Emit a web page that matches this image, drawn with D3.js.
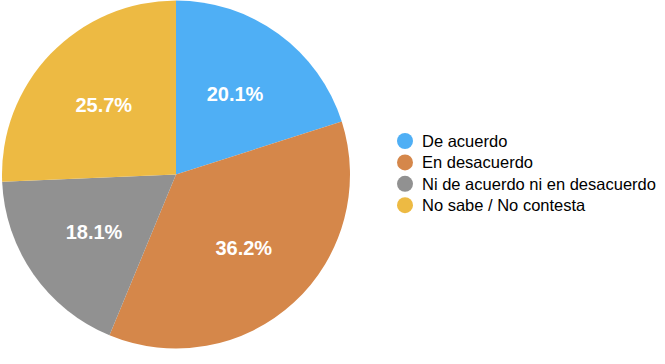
<!DOCTYPE html>
<meta charset="utf-8">
<style>
  body { margin: 0; background: #fff; }
  svg { font-family: "Liberation Sans", Arial, sans-serif; }
  .slice-label { fill: #fff; font-weight: bold; font-size: 20px; }
  .legend text { fill: #000; font-size: 16.5px; }
</style>
<body>
<div id="graph-container"></div>
<script src="https://d3js.org/d3.v7.min.js"></script>
<script>
  // data
  var categories = ["De acuerdo", "En desacuerdo", "Ni de acuerdo ni en desacuerdo", "No sabe / No contesta"];
  var values = [20.1, 36.2, 18.1, 25.7];
  var colors = ["#4faff5", "#d5874a", "#919191", "#edba43"];

  var w = 665, h = 364,
      cx = 176, cy = 174.5, r = 174;

  var svg = d3.select("#graph-container").append("svg")
      .attr("width", w)
      .attr("height", h);

  var color = d3.scaleOrdinal().domain(categories).range(colors);

  var pie = d3.pie().sort(null).value(function(d) { return d.value; });
  var rows = categories.map(function(c, i) { return { name: c, value: values[i] }; });
  var arcs = pie(rows);

  var arc = d3.arc().innerRadius(0).outerRadius(r);
  // label sits roughly 100px out from the centre
  var labelArc = d3.arc().innerRadius(0).outerRadius(r * 1.15);

  var g = svg.append("g").attr("transform", "translate(" + cx + "," + cy + ")");

  g.selectAll("path")
      .data(arcs)
      .enter().append("path")
      .attr("d", arc)
      .attr("fill", function(d) { return color(d.data.name); });

  g.selectAll(".slice-label")
      .data(arcs)
      .enter().append("text")
      .attr("class", "slice-label")
      .attr("text-anchor", "middle")
      .attr("dy", "0.36em")
      .attr("transform", function(d) { return "translate(" + labelArc.centroid(d) + ")"; })
      .text(function(d) { return d.data.value.toFixed(1) + "%"; });

  // legend
  var legend = svg.append("g")
      .attr("class", "legend")
      .attr("transform", "translate(405,141)");

  var item = legend.selectAll("g")
      .data(categories)
      .enter().append("g")
      .attr("transform", function(d, i) { return "translate(0," + (i * 21.4) + ")"; });

  item.append("circle")
      .attr("r", 8)
      .attr("fill", function(d) { return color(d); });

  item.append("text")
      .attr("x", 17)
      .attr("dy", "0.36em")
      .text(String);
</script>
</body>
